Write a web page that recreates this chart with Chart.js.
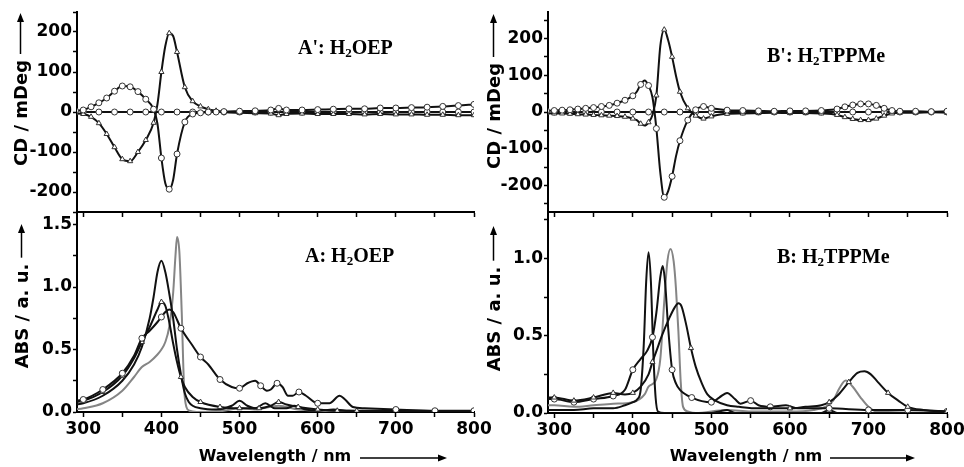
<!DOCTYPE html>
<html>
<head>
<meta charset="utf-8">
<script src="https://cdn.jsdelivr.net/npm/chart.js@4.4.1/dist/chart.umd.min.js"></script>
<style>
  html, body { margin: 0; padding: 0; background: #fff; }
  #wrap { position: relative; width: 964px; height: 467px; }
  #wrap canvas { position: absolute; left: 0; top: 0; }
</style>
</head>
<body>
<div id="wrap">
  <canvas id="cdA" width="964" height="467"></canvas>
  <canvas id="absA" width="964" height="467"></canvas>
  <canvas id="cdB" width="964" height="467"></canvas>
  <canvas id="absB" width="964" height="467"></canvas>
</div>
<script>
// ---------- A': CD of H2OEP ----------
const cdWlA = [290,300,310,320,330,340,350,360,370,380,390,395,400,405,410,415,420,430,440,450,460,470,480,500,520,540,550,560,580,600,620,640,660,680,700,720,740,760,780,800];
const cdA_pos = [3,5,13,23,35,52,65,63,51,32,7,-30,-115,-178,-193,-170,-105,-25,-5,-2,0,0,1,2,3,5,9,5,5,6,7,8,8,10,10,11,12,14,16,19];
const cdA_neg = [-3,-5,-12,-28,-55,-88,-118,-123,-100,-70,-27,20,100,165,197,190,150,62,27,14,7,3,0,-2,-3,-4,-8,-5,-4,-5,-5,-5,-6,-5,-6,-6,-7,-7,-8,-8];
const cdWlFlat = [300,320,340,360,380,400,420,440,460,480,500,520,540,560,580,600,620,640,660,680,700,720,740,760,780,800];
const cdA_flat = [0,0,0,0,0,0,0,0,0,0,0,0,0,0,0,0,0,0,0,0,0,0,0,0,0,0];

// ---------- A: absorption of H2OEP ----------
const absWlA1 = [290,300,325,350,365,375,385,390,395,400,405,410,415,420,425,430,435,440,450,470,490,500,510,520,533,545,560,570,585,600,620,640,700,800];
const absA1 = [0.06,0.07,0.13,0.25,0.38,0.52,0.75,0.92,1.12,1.21,1.12,0.95,0.75,0.5,0.3,0.15,0.08,0.05,0.03,0.02,0.05,0.09,0.05,0.03,0.07,0.03,0.03,0.05,0.02,0.01,0.02,0.01,0.0,0.0];
const absWlA2 = [290,300,325,350,365,375,385,395,400,405,410,415,418,420,423,426,429,432,436,445,480,500,520,550,575,600,650,800];
const absA2 = [0.02,0.03,0.07,0.17,0.28,0.36,0.4,0.46,0.5,0.56,0.68,0.95,1.25,1.40,1.28,0.8,0.2,0.04,0.01,0.0,0.01,0.03,0.02,0.05,0.02,0.01,0.0,0.0];
const absWlA3 = [290,300,325,350,365,375,385,395,400,405,410,415,420,425,430,440,450,475,500,525,540,550,560,575,600,625,650,700,750,800];
const absA3 = [0.08,0.09,0.16,0.29,0.43,0.56,0.68,0.82,0.88,0.85,0.72,0.55,0.4,0.28,0.2,0.12,0.08,0.04,0.03,0.03,0.05,0.08,0.06,0.04,0.02,0.01,0.01,0.01,0.0,0.0];
const absWlA4 = [290,300,325,350,365,375,385,395,400,405,410,415,425,440,450,460,475,490,500,510,520,527,535,540,548,555,562,568,576,585,600,615,628,635,645,660,700,750,800];
const absA4 = [0.09,0.1,0.18,0.31,0.45,0.59,0.65,0.72,0.76,0.8,0.82,0.8,0.67,0.53,0.44,0.38,0.26,0.2,0.19,0.23,0.25,0.21,0.17,0.18,0.23,0.2,0.13,0.13,0.16,0.13,0.07,0.07,0.13,0.1,0.04,0.03,0.02,0.01,0.01];

// ---------- B': CD of H2TPPMe ----------
const cdWlB = [290,300,310,320,330,340,350,360,370,380,390,400,405,410,415,420,425,430,435,440,445,450,455,460,470,480,490,500,520,540,560,580,600,620,640,660,670,680,690,700,710,720,730,740,760,780,800];
const cdB_pos = [3,4,5,6,8,10,12,15,18,24,32,44,55,75,86,72,40,-45,-165,-232,-215,-175,-120,-78,-22,6,15,10,5,4,3,2,3,3,4,8,14,19,22,22,18,10,4,2,2,1,2];
const cdB_neg = [-3,-4,-4,-5,-6,-7,-8,-9,-10,-11,-13,-18,-22,-32,-37,-28,-8,45,180,224,195,150,98,55,10,-10,-18,-12,-5,-4,-3,-2,-3,-3,-4,-8,-14,-19,-22,-22,-18,-10,-4,-2,-2,-1,-2];
const cdB_flat = [0,0,0,0,0,0,0,0,0,0,0,0,0,0,0,0,0,0,0,0,0,0,0,0,0,0];

// ---------- B: absorption of H2TPPMe ----------
const absWlB1 = [290,300,325,350,375,390,400,406,410,414,417,420,423,426,429,432,440,500,510,520,530,600,640,650,660,800];
const absB1 = [0.02,0.02,0.02,0.03,0.03,0.05,0.07,0.09,0.15,0.45,0.85,1.04,0.85,0.4,0.1,0.01,0.0,0.0,0.01,0.02,0.0,0.0,0.0,0.02,0.0,0.0];
const absWlB2 = [290,300,325,350,375,390,400,410,418,425,430,435,438,441,445,450,455,460,475,500,510,520,530,537,550,560,575,595,610,650,700,750,800];
const absB2 = [0.09,0.09,0.07,0.09,0.11,0.15,0.28,0.35,0.4,0.49,0.65,0.88,0.95,0.85,0.55,0.28,0.19,0.15,0.1,0.07,0.1,0.13,0.09,0.06,0.08,0.05,0.04,0.05,0.03,0.03,0.02,0.02,0.01];
const absWlB3 = [290,300,325,350,375,400,415,420,430,435,440,444,448,452,455,458,461,464,470,480,520,550,600,630,645,655,663,671,680,690,700,710,800];
const absB3 = [0.05,0.05,0.04,0.05,0.06,0.07,0.12,0.17,0.22,0.35,0.72,0.98,1.06,0.98,0.8,0.53,0.2,0.04,0.01,0.0,0.02,0.01,0.01,0.02,0.04,0.08,0.16,0.21,0.17,0.1,0.04,0.01,0.0];
const absWlB4 = [290,300,325,350,375,390,400,410,420,425,430,437,447,453,458,462,468,474,480,488,495,505,520,535,560,580,600,620,640,650,662,675,686,695,703,712,725,738,750,770,800];
const absB4 = [0.1,0.1,0.08,0.1,0.13,0.12,0.13,0.17,0.25,0.33,0.4,0.5,0.62,0.68,0.71,0.69,0.57,0.42,0.3,0.19,0.12,0.08,0.05,0.04,0.03,0.03,0.03,0.04,0.05,0.07,0.12,0.2,0.26,0.27,0.25,0.2,0.13,0.08,0.04,0.02,0.01];

const BLACK = '#111';
const GRAY = '#858585';
const SANS = 'DejaVu Sans';

function near(v, step, tol) {
  const r = Math.abs(v / step - Math.round(v / step)) * step;
  return r <= tol;
}

function series(wl, vals, color, style, every, tol) {
  return {
    data: wl.map((x, i) => ({ x: x, y: vals[i] })),
    borderColor: color,
    backgroundColor: color,
    borderWidth: 2,
    fill: false,
    cubicInterpolationMode: 'monotone',
    pointStyle: style,
    pointBackgroundColor: '#fff',
    pointBorderColor: '#333',
    pointBorderWidth: 1,
    pointHoverRadius: 0,
    pointRadius: ctx => (every && ctx.raw && near(ctx.raw.x, every, tol || 0)) ? 3 : 0
  };
}

function tickFont() { return { family: SANS, size: 17, weight: 'bold' }; }

function makePanel(id, datasets, box, y, showX, extra) {
  const xh = showX ? 467 - box.b : 0;
  return new Chart(document.getElementById(id), {
    type: 'line',
    data: { datasets: datasets },
    options: {
      responsive: false,
      animation: false,
      devicePixelRatio: 1,
      events: [],
      layout: { padding: { left: box.l - box.yw, right: 964 - box.r, top: box.t, bottom: 467 - box.b - xh } },
      plugins: { legend: { display: false }, tooltip: { enabled: false } },
      scales: {
        x: {
          type: 'linear', min: 292, max: 800,
          ticks: {
            display: showX, stepSize: 50, includeBounds: false, autoSkip: false, maxRotation: 0,
            padding: 2, color: '#000', font: tickFont(),
            callback: v => near(v, 100, 1e-6) ? String(v) : ''
          },
          grid: { drawOnChartArea: false, drawTicks: true, tickLength: 5, tickColor: '#000', tickWidth: 1.5 },
          border: { display: true, color: '#000', width: 2 },
          afterFit: s => { s.height = xh; s.paddingLeft = 0; s.paddingRight = 0; }
        },
        y: {
          type: 'linear', min: y.min, max: y.max,
          ticks: {
            stepSize: y.step, includeBounds: false, autoSkip: false,
            padding: 1, color: '#000', font: tickFont(),
            callback: v => near(v, y.label, 1e-6) ? y.fmt(v) : ''
          },
          grid: { drawOnChartArea: false, drawTicks: true, tickLength: 4, tickColor: '#000', tickWidth: 1.5 },
          border: { display: true, color: '#000', width: 2 },
          afterFit: s => { s.width = box.yw; s.paddingTop = 0; s.paddingBottom = 0; }
        }
      }
    },
    plugins: extra || []
  });
}

// text, axis titles and arrows
function arrowHead(c, x, y, dir) {
  c.beginPath();
  if (dir === 'up') { c.moveTo(x, y); c.lineTo(x - 3.5, y + 9); c.lineTo(x + 3.5, y + 9); }
  else { c.moveTo(x, y); c.lineTo(x - 9, y - 3.5); c.lineTo(x - 9, y + 3.5); }
  c.closePath();
  c.fill();
}

function panelLabel(c, x, y, head, tail) {
  c.textAlign = 'left';
  c.textBaseline = 'alphabetic';
  c.font = 'bold 20px "Liberation Serif"';
  c.fillText(head, x, y);
  let px = x + c.measureText(head).width;
  c.font = 'bold 13px "Liberation Serif"';
  c.fillText('2', px, y + 3);
  px += c.measureText('2').width;
  c.font = 'bold 20px "Liberation Serif"';
  c.fillText(tail, px, y);
}

function yTitle(c, baseX, yc, text, tipY) {
  c.font = 'bold 18px "' + SANS + '"';
  const w = c.measureText(text).width;
  c.save();
  c.translate(baseX, yc);
  c.rotate(-Math.PI / 2);
  c.textAlign = 'center';
  c.textBaseline = 'alphabetic';
  c.fillText(text, 0, 0);
  c.restore();
  const lx = baseX - 6.5;
  c.beginPath();
  c.moveTo(lx, yc - w / 2 - 6);
  c.lineTo(lx, tipY + 6);
  c.stroke();
  arrowHead(c, lx, tipY, 'up');
}

function xTitle(c, cx, baseY, text, x1, x2, ay) {
  c.font = 'bold 16px "' + SANS + '"';
  c.textAlign = 'center';
  c.textBaseline = 'alphabetic';
  c.fillText(text, cx, baseY);
  c.beginPath();
  c.moveTo(x1, ay);
  c.lineTo(x2 - 6, ay);
  c.stroke();
  arrowHead(c, x2, ay, 'right');
}

const annotate = {
  id: 'annotate',
  afterDraw(chart) {
    const c = chart.ctx;
    c.save();
    c.fillStyle = '#000';
    c.strokeStyle = '#000';
    c.lineWidth = 1.5;
    panelLabel(c, 298, 54, "A': H", 'OEP');
    panelLabel(c, 305, 262, 'A: H', 'OEP');
    panelLabel(c, 767, 62, "B': H", 'TPPMe');
    panelLabel(c, 777, 263, 'B: H', 'TPPMe');
    yTitle(c, 27, 113, 'CD / mDeg', 13);
    yTitle(c, 28, 316, 'ABS / a. u.', 224);
    yTitle(c, 500, 116, 'CD / mDeg', 14);
    yTitle(c, 500, 319, 'ABS / a. u.', 226);
    xTitle(c, 275, 461, 'Wavelength / nm', 360, 447, 458);
    xTitle(c, 746, 461, 'Wavelength / nm', 830, 915, 458);
    c.restore();
  }
};

const cdFmt = v => String(Math.round(v));
const absFmt = v => v.toFixed(1);

makePanel('cdA', [
  series(cdWlA, cdA_pos, BLACK, 'circle', 10, 0),
  series(cdWlA, cdA_neg, BLACK, 'triangle', 10, 0),
  series(cdWlFlat, cdA_flat, BLACK, 'circle', 20, 0)
], { l: 77, r: 474, t: 12, b: 212, yw: 77 },
   { min: -250, max: 250, step: 50, label: 100, fmt: cdFmt }, false);

makePanel('absA', [
  series(absWlA4, absA4, BLACK, 'circle', 25, 3),
  series(absWlA3, absA3, BLACK, 'triangle', 25, 0),
  series(absWlA1, absA1, BLACK, 'circle', 0, 0),
  series(absWlA2, absA2, GRAY, 'circle', 0, 0)
], { l: 77, r: 474, t: 212, b: 412, yw: 77 },
   { min: 0, max: 1.6, step: 0.25, label: 0.5, fmt: absFmt }, true);

makePanel('cdB', [
  series(cdWlB, cdB_pos, BLACK, 'circle', 10, 0),
  series(cdWlB, cdB_neg, BLACK, 'triangle', 10, 0),
  series(cdWlFlat, cdB_flat, BLACK, 'circle', 20, 0)
], { l: 548, r: 947, t: 12, b: 212, yw: 68 },
   { min: -272, max: 272, step: 50, label: 100, fmt: cdFmt }, false);

makePanel('absB', [
  series(absWlB4, absB4, BLACK, 'triangle', 25, 3),
  series(absWlB2, absB2, BLACK, 'circle', 25, 3),
  series(absWlB1, absB1, BLACK, 'circle', 0, 0),
  series(absWlB3, absB3, GRAY, 'circle', 0, 0)
], { l: 548, r: 947, t: 212, b: 413, yw: 68 },
   { min: 0, max: 1.3, step: 0.25, label: 0.5, fmt: absFmt }, true, [annotate]);
</script>
</body>
</html>
